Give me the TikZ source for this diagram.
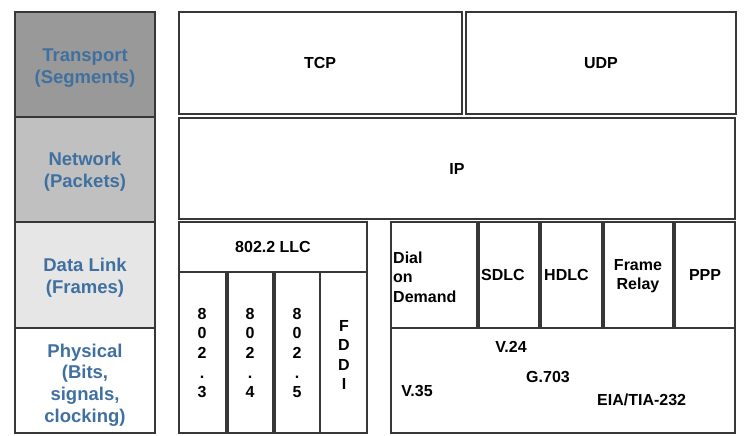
\documentclass[tikz,border=0pt]{standalone}
\usepackage{fontspec}
\setmainfont{Liberation Sans}
\definecolor{edge}{RGB}{55,55,55}
\definecolor{layerblue}{RGB}{64,112,160}
\definecolor{gTrans}{RGB}{153,153,153}
\definecolor{gNet}{RGB}{192,192,192}
\definecolor{gLink}{RGB}{230,230,230}
\begin{document}
\begin{tikzpicture}[x=1pt,y=-1pt,
  box/.style={draw=edge,line width=1.2pt},
  layer/.style={font=\fontsize{18.5}{21.7}\selectfont\bfseries,text=layerblue,align=center,inner sep=0pt},
  lbl/.style={font=\fontsize{16}{19.6}\selectfont\bfseries,text=black,align=center,inner sep=0pt},
  lbll/.style={lbl,align=left}]
\useasboundingbox (0,0) rectangle (744,436);
% left layer column
\fill[gTrans] (15,12) rectangle (155,117);
\fill[gNet] (15,117) rectangle (155,222);
\fill[gLink] (15,222) rectangle (155,328);
\draw[box] (15,12) rectangle (155,117);
\draw[box] (15,117) rectangle (155,222);
\draw[box] (15,222) rectangle (155,328);
\draw[box] (15,328) rectangle (155,433);
\node[layer] (transport) at (85,68) {Transport\\(Segments)};
\node[layer] (network) at (85,172) {Network\\(Packets)};
\node[layer] (datalink) at (85,278) {Data Link\\(Frames)};
\node[layer] (physical) at (85,385) {Physical\\(Bits,\\signals,\\clocking)};
% transport & network
\draw[box] (179,12) rectangle (462,114);
\draw[box] (466,12) rectangle (736,114);
\draw[box] (179,118) rectangle (735,219);
\node[lbl] (tcp) at (320,63) {TCP};
\node[lbl] (udp) at (601,63) {UDP};
\node[lbl] (ip) at (457,169) {IP};
% LAN side
\draw[box] (179,222) rectangle (367,272);
\draw[box] (179,272) rectangle (226,433);
\draw[box] (228,272) rectangle (273,433);
\draw[box] (275,272) rectangle (320,433);
\draw[box] (320,272) rectangle (367,433);
\node[lbl] (llc) at (273,247) {802.2 LLC};
\node[lbl] (e3) at (202,353) {8\\0\\2\\.\\3};
\node[lbl] (e4) at (250,353) {8\\0\\2\\.\\4};
\node[lbl] (e5) at (297,353) {8\\0\\2\\.\\5};
\node[lbl] (fddi) at (344,355) {F\\D\\D\\I};
% WAN side
\draw[box] (391,222) rectangle (477,328);
\draw[box] (479,222) rectangle (539,328);
\draw[box] (541,222) rectangle (602,328);
\draw[box] (604,222) rectangle (673,328);
\draw[box] (675,222) rectangle (735,328);
\draw[box] (391,328) rectangle (735,433);
\node[lbll,anchor=west] (dod) at (393,277) {Dial\\on\\Demand};
\node[lbl,anchor=west] (sdlc) at (481,275) {SDLC};
\node[lbl,anchor=west] (hdlc) at (544,275) {HDLC};
\node[lbl] (fr) at (638,276) {Frame\\Relay};
\node[lbl] (ppp) at (705,275) {PPP};
\node[lbl] (v24) at (511,347) {V.24};
\node[lbl] (g703) at (548,377) {G.703};
\node[lbl] (v35) at (417,391) {V.35};
\node[lbl,anchor=west] (eia) at (597,400) {EIA/TIA-232};
\end{tikzpicture}
\end{document}
